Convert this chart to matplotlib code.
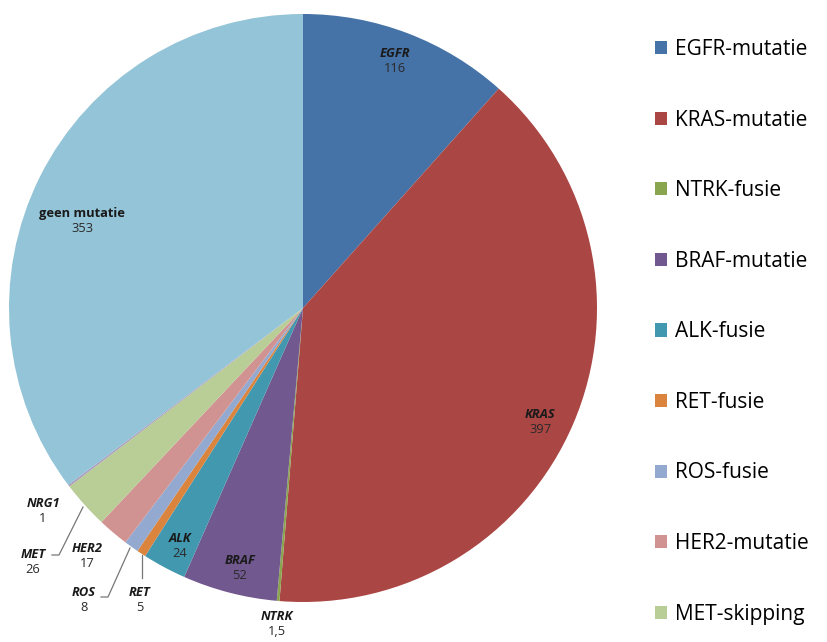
import matplotlib
matplotlib.use('Agg')
import matplotlib.pyplot as plt

# slices, clockwise from 12 o'clock
names = ['EGFR', 'KRAS', 'NTRK', 'BRAF', 'ALK', 'RET', 'ROS', 'HER2', 'MET', 'NRG1', 'geen mutatie']
values = [116, 397, 1.5, 52, 24, 5, 8, 17, 26, 1, 353]
value_text = ['116', '397', '1,5', '52', '24', '5', '8', '17', '26', '1', '353']
legend_labels = ['EGFR-mutatie', 'KRAS-mutatie', 'NTRK-fusie', 'BRAF-mutatie', 'ALK-fusie',
                 'RET-fusie', 'ROS-fusie', 'HER2-mutatie', 'MET-skipping']
colors = ['#4572A7', '#AA4643', '#89A54E', '#71588F', '#4198AF', '#DB843D',
          '#93A9CF', '#D19392', '#B9CD96', '#A99BBD', '#93C4D7']

# label anchors in pixels of the original picture (name above, value below)
label_px = [(395, 61), (540, 422), (277, 624), (240, 568), (180, 546), (140, 600),
            (84, 600), (87, 556), (33, 562), (43, 511), (82, 221)]
# leader lines, pixels
leaders = {
    'MET': [(83, 507), (59, 555), (52, 555)],
    'ROS': [(130, 548), (108, 597), (101, 597)],
    'RET': [(142, 555), (142, 578)],
}

CX, CY, R = 303.0, 308.0, 294.0


def to_data(p):
    return (p[0] - CX) / R, (CY - p[1]) / R


fig = plt.figure(figsize=(8.28, 6.42), dpi=100)
ax = fig.add_axes([(CX - R) / 828, (642 - CY - R) / 642, 2 * R / 828, 2 * R / 642])
wedges, _ = ax.pie(values, colors=colors, startangle=90, counterclock=False,
                   radius=1, wedgeprops=dict(linewidth=0))
ax.set_xlim(-1, 1)
ax.set_ylim(-1, 1)
ax.set_aspect('equal')
ax.axis('off')

for name, val, p in zip(names, value_text, label_px):
    x, y = to_data(p)
    ax.text(x, y + 0.003, name, ha='center', va='bottom', fontsize=9.3,
            fontweight='bold', style='italic' if name != 'geen mutatie' else 'normal',
            family='Open Sans', color='#1a1a1a', clip_on=False)
    ax.text(x, y - 0.003, val, ha='center', va='top', fontsize=9.3,
            family='Open Sans', color='#2a2a2a', clip_on=False)

for key, pts in leaders.items():
    d = [to_data(p) for p in pts]
    ax.plot([q[0] for q in d], [q[1] for q in d], color='#777777', lw=0.9, clip_on=False)

leg = fig.legend(wedges[:9], legend_labels, loc='upper left',
                 bbox_to_anchor=(655 / 828, 1 - 39 / 642), frameon=False,
                 prop={'family': 'Open Sans', 'size': 15},
                 handlelength=0.6, handleheight=0.6, handletextpad=0.35,
                 labelspacing=2.38, borderaxespad=0, borderpad=0)

fig.savefig('out.png', dpi=100)
